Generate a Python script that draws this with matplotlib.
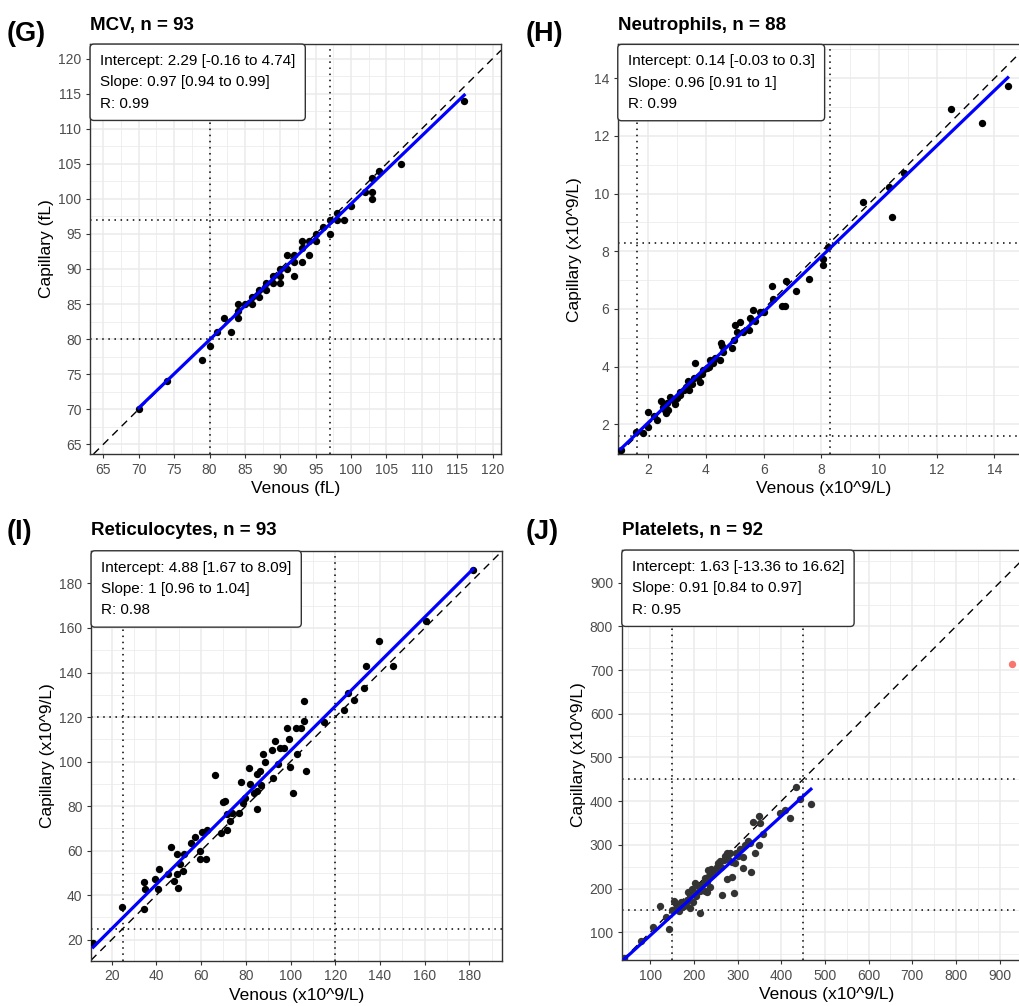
import numpy as np
import matplotlib
matplotlib.use("Agg")
import matplotlib.pyplot as plt
from matplotlib.ticker import MultipleLocator

plt.rcParams['font.family'] = ['Liberation Sans', 'DejaVu Sans']

# ---- (G) MCV ----
mcv_ven = [70, 74, 79, 80, 81, 83, 82, 84, 84, 84, 85, 86, 86, 87, 87, 88, 88, 89, 89, 90,
           90, 90, 91, 91, 92, 92, 92, 93, 93, 93, 94, 94, 95, 95, 96, 97, 97, 98, 98, 99,
           100, 102, 103, 103, 103, 104, 107, 116]
mcv_cap = [70, 74, 77, 79, 81, 81, 83, 83, 84, 85, 85, 85, 86, 86, 87, 87, 88, 88, 89, 90,
           88, 89, 90, 92, 89, 91, 92, 94, 91, 93, 94, 92, 94, 95, 96, 95, 97, 98, 97, 97,
           99, 101, 101, 100, 103, 104, 105, 114]

# ---- (H) Neutrophils ----
neu_ven = [1.05, 1.57, 1.80, 2.0, 2.0, 2.2, 2.31, 2.43, 2.5, 2.58, 2.6, 2.66, 2.7, 2.77, 2.9,
           2.92, 3.0, 3.1, 3.1, 3.24, 3.3, 3.39, 3.4, 3.5, 3.62, 3.6, 3.73, 3.79, 3.85, 3.91,
           4.02, 4.1, 4.14, 4.25, 4.3, 4.48, 4.51, 4.54, 4.6, 4.89, 4.97, 5.0, 5.06, 5.18,
           5.3, 5.50, 5.52, 5.62, 5.7, 5.87, 6.0, 6.30, 6.31, 6.62, 6.74, 6.77, 7.12, 7.56,
           8.04, 8.07, 8.24, 9.45, 10.35, 10.46, 10.86, 12.51, 13.58, 14.46]
neu_cap = [1.1, 1.75, 1.69, 2.42, 1.92, 2.3, 2.15, 2.81, 2.6, 2.50, 2.4, 2.73, 2.5, 2.96, 2.8,
           2.71, 2.90, 3.13, 3.0, 3.19, 3.3, 3.51, 3.2, 3.4, 4.12, 3.6, 3.65, 3.48, 3.75, 3.88,
           3.94, 4.0, 4.23, 4.12, 4.3, 4.23, 4.81, 4.72, 4.5, 4.64, 4.93, 5.45, 5.21, 5.56,
           5.2, 5.27, 5.68, 5.97, 5.6, 5.91, 5.9, 6.80, 6.34, 6.10, 6.10, 6.98, 6.64, 7.05,
           7.53, 7.72, 8.16, 9.72, 10.24, 9.18, 10.71, 12.92, 12.46, 13.73]

# ---- (I) Reticulocytes ----
ret_ven = [11.8, 24.6, 34.3, 34.3, 35, 39.5, 41, 40.6, 45, 46.5, 47.7, 49.5, 49.2, 49.2, 50.7,
           51.9, 52.2, 55.7, 57.5, 59.4, 59.7, 60.5, 62.7, 62.4, 66.4, 68.7, 69.9, 70.5, 71.4,
           71.7, 72.9, 74, 77, 77.7, 78.9, 79.5, 81.4, 81.9, 83.6, 84.8, 85.1, 85.1, 86.3,
           86.6, 87.8, 88.4, 91.9, 92.3, 92.9, 94.4, 95.3, 97.1, 98.3, 99.4, 99.8, 100.9,
           102.4, 102.8, 104.6, 105.8, 106.1, 107, 115.1, 124, 125.5, 128.2, 133, 133.8,
           139.7, 145.7, 160.7, 181.6]
ret_cap = [18.4, 34.5, 33.8, 45.8, 42.8, 47.3, 51.8, 42.8, 49.5, 61.8, 46.5, 43.1, 49.5, 58.5,
           54, 51, 58.5, 63.3, 66, 60, 56.3, 68.3, 69.3, 56.3, 94.2, 67.8, 81.8, 82.3, 69.3,
           76.5, 73.5, 76.8, 76.8, 90.8, 81.3, 83.7, 97.2, 90, 85.8, 78.8, 86.7, 94.5, 95.7,
           89.7, 103.5, 99.8, 105, 92.7, 109.2, 99, 106.2, 106.2, 115.2, 110.3, 97.8, 85.8,
           115.2, 103.5, 115.2, 118.2, 127.1, 95.7, 117.8, 123, 130.8, 127.8, 133.1, 143,
           154.1, 143, 163.2, 186]

# ---- (J) Platelets ----
plt_ven = [41, 80, 106, 122, 142, 136, 150, 155, 158, 161, 165, 170, 172, 178, 182, 185, 187,
           190, 191, 195, 198, 203, 205, 205, 210, 214, 215, 220, 225, 225, 229, 230, 233,
           235, 237, 240, 241, 245, 250, 252, 255, 260, 262, 264, 268, 272, 275, 275, 278,
           283, 287, 288, 292, 294, 297, 300, 305, 313, 313, 318, 325, 329, 330, 335, 340,
           349, 350, 351, 358, 397, 409, 419, 434, 443, 468]
plt_cap = [42, 79, 111, 161, 107, 136, 150, 172, 165, 155, 148, 170, 159, 160, 166, 175, 193,
           185, 155, 200, 170, 212, 182, 190, 205, 145, 195, 210, 195, 225, 193, 215, 243,
           228, 204, 245, 235, 235, 240, 250, 258, 262, 250, 185, 265, 275, 223, 281, 268,
           282, 227, 260, 191, 258, 281, 275, 290, 273, 246, 300, 310, 304, 239, 353, 282,
           300, 365, 349, 326, 374, 380, 361, 432, 404, 394]
plt_out_ven = [929]
plt_out_cap = [715]

titles = ["MCV, n = 93", "Neutrophils, n = 88", "Reticulocytes, n = 93", "Platelets, n = 92"]
tags = ["(G)", "(H)", "(I)", "(J)"]
intercepts = [2.29, 0.14, 4.88, 1.63]
slopes = [0.97, 0.96, 1, 0.91]
stat_text = [
    "Intercept: 2.29 [-0.16 to 4.74]\nSlope: 0.97 [0.94 to 0.99]\nR: 0.99",
    "Intercept: 0.14 [-0.03 to 0.3]\nSlope: 0.96 [0.91 to 1]\nR: 0.99",
    "Intercept: 4.88 [1.67 to 8.09]\nSlope: 1 [0.96 to 1.04]\nR: 0.98",
    "Intercept: 1.63 [-13.36 to 16.62]\nSlope: 0.91 [0.84 to 0.97]\nR: 0.95",
]
ref_ranges = [[80, 97], [1.6, 8.3], [25, 120], [150, 450]]

W, H = 1019, 1006
fig = plt.figure(figsize=(W / 100, H / 100), dpi=100)


def add_ax(left, top, right, bottom):
    return fig.add_axes([left / W, 1 - bottom / H, (right - left) / W, (bottom - top) / H])


def panel(ax, x, y, xlim, ylim, major, minor, i, xlabel, ylabel, color="black",
          out_x=None, out_y=None):
    ax.set_xlim(xlim)
    ax.set_ylim(ylim)
    ax.xaxis.set_major_locator(MultipleLocator(major))
    ax.yaxis.set_major_locator(MultipleLocator(major))
    ax.xaxis.set_minor_locator(MultipleLocator(minor))
    ax.yaxis.set_minor_locator(MultipleLocator(minor))
    ax.grid(which="major", color="#EBEBEB", lw=1.1)
    ax.grid(which="minor", color="#EBEBEB", lw=0.55)
    ax.set_axisbelow(True)
    ax.tick_params(which="minor", length=0)
    ax.tick_params(which="major", length=2.9, width=0.8, color="#333333",
                   labelcolor="#4D4D4D", labelsize=10, pad=3.3)
    for s in ax.spines.values():
        s.set_color("#333333")
        s.set_linewidth(1.0)

    ax.axline((0, 0), slope=1, color="black", lw=1.0, ls=(0, (5.5, 4)), zorder=2)
    for r in ref_ranges[i]:
        ax.axvline(r, color="black", lw=1.1, ls=(0, (1, 3)), zorder=2)
        ax.axhline(r, color="black", lw=1.1, ls=(0, (1, 3)), zorder=2)

    ax.scatter(x, y, s=28, c=color, linewidths=0, zorder=3)
    if out_x is not None:
        ax.scatter(out_x, out_y, s=28, c="#F8766D", linewidths=0, zorder=3)

    xs = np.array([min(x), max(x)])
    ax.plot(xs, intercepts[i] + slopes[i] * xs, color="#0000FF", lw=2.3, zorder=4)

    ax.annotate(stat_text[i], xy=(0, 1), xycoords="axes fraction",
                xytext=(7.2, -7.2), textcoords="offset points",
                ha="left", va="top", fontsize=11, linespacing=1.66, zorder=10,
                bbox=dict(boxstyle="round,pad=0.65,rounding_size=0.25",
                          fc="white", ec="#333333", lw=1.0))

    bb = ax.get_position()
    wpx, hpx = bb.width * W, bb.height * H
    ax.set_xlabel(xlabel, fontsize=12.5)
    ax.set_ylabel(ylabel, fontsize=12.5)
    ax.xaxis.set_label_coords(0.5, -27 / hpx)
    ax.yaxis.set_label_coords(-36 / wpx, 0.5)


axG = add_ax(90, 44, 501, 454)
panel(axG, mcv_ven, mcv_cap, (63.1, 121.2), (63.6, 122.1), 5, 2.5, 0,
      "Venous (fL)", "Capillary (fL)")

axH = add_ax(617.7, 44.3, 1029.1, 454)
panel(axH, neu_ven, neu_cap, (0.94, 15.2), (0.97, 15.18), 2, 1, 1,
      "Venous (x10^9/L)", "Capillary (x10^9/L)")

axI = add_ax(91, 550.7, 501.7, 960.7)
panel(axI, ret_ven, ret_cap, (10.8, 194.4), (10.6, 194.7), 20, 10, 2,
      "Venous (x10^9/L)", "Capillary (x10^9/L)")

axJ = add_ax(621.7, 550, 1032.3, 960)
panel(axJ, plt_ven, plt_cap, (34.7, 975), (36.6, 974.8), 100, 50, 3,
      "Venous (x10^9/L)", "Capillary (x10^9/L)", color="#333333",
      out_x=plt_out_ven, out_y=plt_out_cap)

# titles and panel tags (pixel positions)
title_pos = [(90.5, 30), (618, 30), (91, 535), (621.7, 535)]
tag_pos = [(7, 41), (526, 41), (7, 539), (526, 539)]
for i in range(4):
    fig.text(title_pos[i][0] / W, 1 - title_pos[i][1] / H, titles[i],
             fontsize=13.5, fontweight="bold", va="baseline", ha="left")
    fig.text(tag_pos[i][0] / W, 1 - tag_pos[i][1] / H, tags[i],
             fontsize=19.5, fontweight="bold", va="baseline", ha="left")

fig.savefig("out.png", dpi=100)
